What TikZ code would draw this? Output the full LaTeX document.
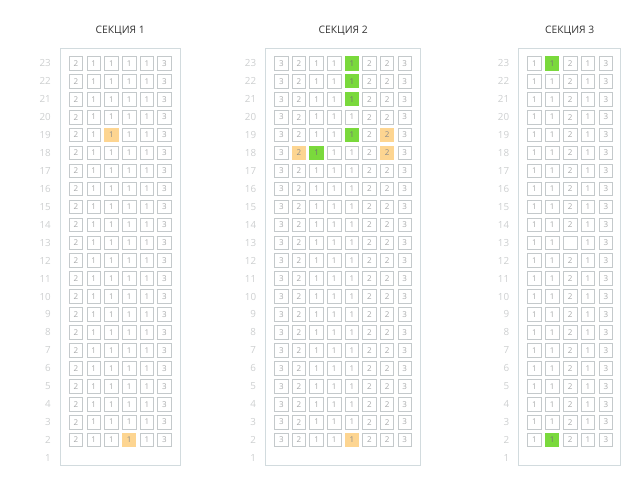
\documentclass[tikz,border=0pt]{standalone}
\usepackage{fontspec}
\setmainfont{Open Sans}

\definecolor{framegray}{HTML}{D2DBDE}
\definecolor{seatgray}{HTML}{C4C9CB}
\definecolor{numgray}{HTML}{A7A9AA}
\definecolor{rowgray}{HTML}{CDCFD0}
\definecolor{soldorange}{HTML}{FDD591}
\definecolor{freegreen}{HTML}{7AD93C}

\tikzset{
	seat/.style={draw=seatgray, line width=0.8pt, minimum size=13.6pt, inner sep=0pt,
		text=numgray, font=\fontsize{8}{8}\selectfont},
	seatsold/.style={seat, draw=none, fill=soldorange, minimum size=14.4pt, text=black!45},
	seatfree/.style={seat, draw=none, fill=freegreen, minimum size=14.4pt, text=black!55},
	rownum/.style={anchor=east, inner sep=0pt, text=rowgray, font=\fontsize{9.8}{9.8}\selectfont},
	sectitle/.style={text=black!80, font=\fontsize{10.3}{10.3}\selectfont},
	hall/.style={draw=framegray, line width=0.9pt}
}

\begin{document}
\begin{tikzpicture}[x=1pt,y=-1pt]
\useasboundingbox (0,0) rectangle (640,482);

% Frames and titles:
\draw[hall] (60.5,48.8) rectangle (180,465);
\draw[hall] (265.8,48.8) rectangle (420.7,465);
\draw[hall] (518.8,48.8) rectangle (620.6,465);

\node[sectitle] (T1) at (120.2,31) {СЕКЦИЯ 1};
\node[sectitle] (T2) at (343.2,31) {СЕКЦИЯ 2};
\node[sectitle] (T3) at (569.7,31) {СЕКЦИЯ 3};

\foreach \r in {1,...,23} {
	\pgfmathsetmacro\yy{63.3+(23-\r)*17.94}
	\node[rownum] (A\r) at (51,\yy) {\r};
	\node[rownum] (B\r) at (256.3,\yy) {\r};
	\node[rownum] (C\r) at (509.3,\yy) {\r};
}

% Section 1:
\foreach \r in {2,...,23} {
	\pgfmathsetmacro\yy{63.3+(23-\r)*17.94}
	\def\rowseats{2/seat,1/seat,1/seat,1/seat,1/seat,3/seat}
	\ifnum\r=19 \def\rowseats{2/seat,1/seat,1/seatsold,1/seat,1/seat,3/seat}\fi
	\ifnum\r=2 \def\rowseats{2/seat,1/seat,1/seat,1/seatsold,1/seat,3/seat}\fi
	\foreach \n/\st [count=\c] in \rowseats {
		\node[\st] (A\r-\c) at ({76+(\c-1)*17.7},\yy) {\n};
	}
}

% Section 2:
\foreach \r in {2,...,23} {
	\pgfmathsetmacro\yy{63.3+(23-\r)*17.94}
	\def\rowseats{3/seat,2/seat,1/seat,1/seat,1/seat,2/seat,2/seat,3/seat}
	\ifnum\r>20 \def\rowseats{3/seat,2/seat,1/seat,1/seat,1/seatfree,2/seat,2/seat,3/seat}\fi
	\ifnum\r=19 \def\rowseats{3/seat,2/seat,1/seat,1/seat,1/seatfree,2/seat,2/seatsold,3/seat}\fi
	\ifnum\r=18 \def\rowseats{3/seat,2/seatsold,1/seatfree,1/seat,1/seat,2/seat,2/seatsold,3/seat}\fi
	\ifnum\r=2 \def\rowseats{3/seat,2/seat,1/seat,1/seat,1/seatsold,2/seat,2/seat,3/seat}\fi
	\foreach \n/\st [count=\c] in \rowseats {
		\node[\st] (B\r-\c) at ({281.3+(\c-1)*17.63},\yy) {\n};
	}
}

% Section 3:
\foreach \r in {2,...,23} {
	\pgfmathsetmacro\yy{63.3+(23-\r)*17.94}
	\def\rowseats{1/seat,1/seat,2/seat,1/seat,3/seat}
	\ifnum\r=23 \def\rowseats{1/seat,1/seatfree,2/seat,1/seat,3/seat}\fi
	\ifnum\r=13 \def\rowseats{1/seat,1/seat,{}/seat,1/seat,3/seat}\fi
	\ifnum\r=2 \def\rowseats{1/seat,1/seatfree,2/seat,1/seat,3/seat}\fi
	\foreach \n/\st [count=\c] in \rowseats {
		\node[\st] (C\r-\c) at ({534.3+(\c-1)*17.9},\yy) {\n};
	}
}

\end{tikzpicture}
\end{document}
